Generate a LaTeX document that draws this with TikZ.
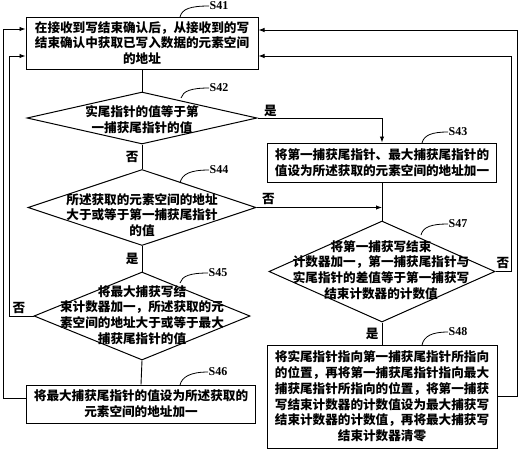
\documentclass[tikz,border=0pt]{standalone}
\usepackage{fontspec}
\setmainfont{Noto Sans CJK SC}
\newfontfamily\labfont{Liberation Serif}
\usetikzlibrary{shapes.geometric,arrows.meta}
\begin{document}
\begin{tikzpicture}[x=1pt,y=-1pt, line width=0.9pt,
  box/.style={draw, rectangle, inner sep=0pt, line width=1pt},
  dia/.style={draw, diamond, inner sep=0pt, line width=1pt},
  txt/.style={font=\bfseries\fontsize{12.6}{15.8}\selectfont, align=center, inner sep=0pt},
  slab/.style={font=\labfont\bfseries\fontsize{12}{12}\selectfont, inner sep=0pt},
  lbl/.style={font=\bfseries\fontsize{12.6}{14}\selectfont, inner sep=0pt},
  arr/.style={-{Latex[length=6pt,width=4.5pt]}},
  lead/.style={line width=0.8pt}]
\useasboundingbox (0,0) rectangle (519,450);

% boxes
\node[box, txt, minimum width=232pt, minimum height=52pt] (s41) at (142,43)
  {在接收到写结束确认后，从接收到的写\\结束确认中获取已写入数据的元素空间\\的地址};
\node[box, txt, minimum width=229pt, minimum height=39pt] (s43) at (382,162.5)
  {将第一捕获尾指针、最大捕获尾指针的\\值设为所述获取的元素空间的地址加一};
\node[box, txt, minimum width=229pt, minimum height=38pt] (s46) at (141,404)
  {将最大捕获尾指针的值设为所述获取的\\元素空间的地址加一};
\node[box, txt, minimum width=230pt, minimum height=103pt] (s48) at (382,396.5)
  {将实尾指针指向第一捕获尾指针所指向\\的位置，再将第一捕获尾指针指向最大\\捕获尾指针所指向的位置，将第一捕获\\写结束计数器的计数值设为最大捕获写\\结束计数器的计数值，再将最大捕获写\\结束计数器清零};

% diamonds
\node[dia, minimum width=230pt, minimum height=52pt] (s42) at (142,118) {};
\node[txt] (s42t) at (142,119.5) {实尾指针的值等于第\\一捕获尾指针的值};
\node[dia, minimum width=228pt, minimum height=76pt] (s44) at (142,207.5) {};
\node[txt] (s44t) at (142,215) {所述获取的元素空间的地址\\大于或等于第一捕获尾指针\\的值};
\node[dia, minimum width=216pt, minimum height=88pt] (s45) at (142,316) {};
\node[txt] (s45t) at (142,315) {将最大捕获写结\\束计数器加一，所述获取的元\\素空间的地址大于或等于最大\\捕获尾指针的值};
\node[dia, minimum width=226pt, minimum height=101pt] (s47) at (382,271.5) {};
\node[txt] (s47t) at (381,270) {将第一捕获写结束\\计数器加一，第一捕获尾指针与\\实尾指针的差值等于第一捕获写\\结束计数器的计数值};

% vertical flow
\draw (s41.south) -- (s42.north);
\draw (s42.south) -- (s44.north) node[lbl, midway, left=3pt] (n1) {否};
\draw (s44.south) -- (s45.north) node[lbl, midway, left=3pt] (y2) {是};
\draw (s45.south) -- (s46.north);
\draw (s43.south) -- (s47.north);
\draw (s47.south) -- (s48.north) node[lbl, midway, left=3pt] (y3) {是};

% branches to the right column
\draw[arr] (s42.east) -- (s42.east -| s43.north) -- (s43.north);
\node[lbl] (y1) at ([xshift=13pt,yshift=7pt]s42.east) {是};
\draw[arr] (s44.east) -- (s44.east -| s47.north);
\node[lbl] (n2) at ([xshift=12pt,yshift=9pt]s44.east) {否};

% loops back to S41
\coordinate (L1) at (3,0);
\coordinate (L2) at (9,0);
\coordinate (R1) at (517.5,0);
\coordinate (R2) at (511,0);
\draw[arr] ([yshift=6pt]s46.west) -- ([yshift=6pt]s46.west -| L1)
  -- ([yshift=14pt]s41.west -| L1) -- ([yshift=14pt]s41.west);
\draw[arr] (s45.west) -- (s45.west -| L2)
  -- ([yshift=-13pt]s41.west -| L2) -- ([yshift=-13pt]s41.west);
\node[lbl] (n3) at (19,308) {否};
\draw[arr] (s48.east) -- (s48.east -| R1)
  -- ([yshift=13pt]s41.east -| R1) -- ([yshift=13pt]s41.east);
\draw[arr] (s47.east) -- (s47.east -| R2)
  -- ([yshift=-13pt]s41.east -| R2) -- ([yshift=-13pt]s41.east);
\node[lbl] (n4) at (503,263) {否};

% step labels with leaders
\node[slab] (l41) at (219,6) {S41};
\coordinate (c41) at (180,17);
\draw[lead] (c41) .. controls (182,9) and (190,6) .. (l41.west);
\node[slab] (l42) at (219,88) {S42};
\coordinate (c42) at (181,98);
\draw[lead] (c42) .. controls (183,91) and (191,88) .. (l42.west);
\node[slab] (l44) at (219,170) {S44};
\coordinate (c44) at (180,183);
\draw[lead] (c44) .. controls (182,174) and (190,170) .. (l44.west);
\node[slab] (l45) at (218,273) {S45};
\coordinate (c45) at (180,283);
\draw[lead] (c45) .. controls (182,276) and (190,273) .. (l45.west);
\node[slab] (l46) at (218,372) {S46};
\coordinate (c46) at (180,385);
\draw[lead] (c46) .. controls (182,377) and (190,372) .. (l46.west);
\node[slab] (l43) at (458,132) {S43};
\coordinate (c43) at (422,143);
\draw[lead] (c43) .. controls (424,135) and (432,132) .. (l43.west);
\node[slab] (l47) at (458,224) {S47};
\coordinate (c47) at (421,235);
\draw[lead] (c47) .. controls (423,227) and (431,224) .. (l47.west);
\node[slab] (l48) at (458,332) {S48};
\coordinate (c48) at (422,345);
\draw[lead] (c48) .. controls (424,336) and (432,332) .. (l48.west);
\end{tikzpicture}
\end{document}
